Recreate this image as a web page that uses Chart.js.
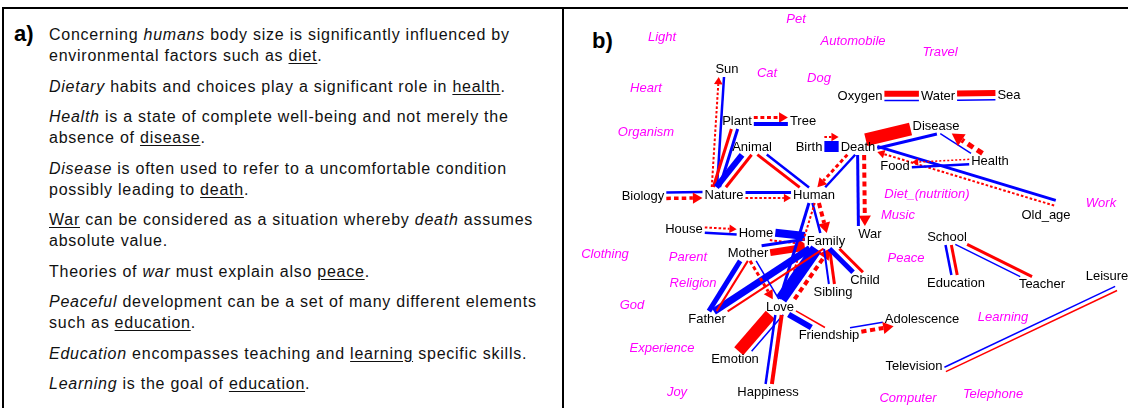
<!DOCTYPE html>
<html>
<head>
<meta charset="utf-8">
<script src="https://cdn.jsdelivr.net/npm/chart.js@4/dist/chart.umd.min.js"></script>
<style>
  html, body { margin: 0; padding: 0; background: #fff; }
  body { width: 1128px; height: 408px; position: relative; overflow: hidden; font-family: "Liberation Sans", Arial, sans-serif; }
  #topline { position: absolute; left: 2px; top: 7px; width: 1126px; height: 2px; background: #000; }
  #leftline { position: absolute; left: 2px; top: 7px; width: 2px; height: 401px; background: #000; }
  #divider { position: absolute; left: 562px; top: 7px; width: 2px; height: 401px; background: #000; }
  .tag { position: absolute; font-weight: bold; font-size: 22px; line-height: 22px; color: #000; }
  #text { position: absolute; left: 49px; top: 24px; font-size: 16px; letter-spacing: 0.75px; line-height: 21px; color: #111; white-space: nowrap; }
  #text p { margin: 0 0 9.5px 0; }
  #text u { text-underline-offset: 2px; }
  #graph { position: absolute; left: 565px; top: 9px; width: 563px; height: 399px; }
</style>
</head>
<body>
<div id="topline"></div>
<div id="leftline"></div>
<div id="divider"></div>
<div class="tag" style="left:14px; top:23px;">a)</div>
<div id="text">
  <p>Concerning <i>humans</i> body size is significantly influenced by<br>environmental factors such as <u>diet</u>.</p>
  <p><i>Dietary</i> habits and choices play a significant role in <u>health</u>.</p>
  <p><i>Health</i> is a state of complete well-being and not merely the<br>absence of <u>disease</u>.</p>
  <p><i>Disease</i> is often used to refer to a uncomfortable condition<br>possibly leading to <u>death</u>.</p>
  <p><u>War</u> can be considered as a situation whereby <i>death</i> assumes<br>absolute value.</p>
  <p>Theories of <i>war</i> must explain also <u>peace</u>.</p>
  <p><i>Peaceful</i> development can be a set of many different elements<br>such as <u>education</u>.</p>
  <p><i>Education</i> encompasses teaching and <u>learning</u> specific skills.</p>
  <p><i>Learning</i> is the goal of <u>education</u>.</p>
</div>
<div class="tag" style="left:592px; top:30px;">b)</div>
<div id="graph"><canvas id="graphCanvas"></canvas></div>
<script>
// connected concepts (label centre, same units as the picture)
const nodeNames = ['Sun', 'Plant', 'Tree', 'Animal', 'Birth', 'Death', 'Oxygen', 'Water', 'Sea',
  'Disease', 'Food', 'Health', 'Biology', 'Nature', 'Human', 'Old_age', 'War', 'School', 'House',
  'Home', 'Family', 'Mother', 'Child', 'Sibling', 'Education', 'Teacher', 'Leisure', 'Father',
  'Love', 'Friendship', 'Adolescence', 'Emotion', 'Television', 'Happiness'];
const nodeX = [727, 737, 803, 752, 809, 858, 860, 938, 1009,
  936, 895, 990, 643, 724, 814, 1046, 870, 947, 684,
  756, 826, 748, 865, 833, 956, 1042, 1107, 707,
  780, 829, 922, 735, 914, 768];
const nodeY = [69, 121, 121, 147, 147, 147, 96, 96, 95,
  126, 166, 161, 196, 195, 195, 215, 234, 237, 229,
  233, 241, 253, 280, 292, 283, 284, 276, 319,
  307, 335, 319, 359, 366, 392];

// concepts with no link
const freeNames = ['Pet', 'Light', 'Automobile', 'Travel', 'Cat', 'Dog', 'Heart', 'Organism',
  'Diet_(nutrition)', 'Work', 'Music', 'Clothing', 'Parent', 'Peace', 'Religion', 'God',
  'Learning', 'Experience', 'Joy', 'Computer', 'Telephone'];
const freeX = [796, 662, 853, 940, 767, 819, 646, 646, 927, 1101, 898, 605, 688, 906, 693, 632,
  1003, 662, 677, 908, 993];
const freeY = [19, 37, 41, 52, 73, 78, 88, 132, 194, 203, 215, 254, 257, 258, 283, 305,
  317, 348, 392, 398, 394];

// links: from, to, type (b = blue, r = red, d = red directed), weight
const links = [
  ['Sun', 'Nature', 'b', 2.5], ['Nature', 'Sun', 'd', 2],
  ['Plant', 'Nature', 'b', 3], ['Plant', 'Nature', 'r', 3],
  ['Animal', 'Nature', 'r', 3], ['Animal', 'Nature', 'b', 6],
  ['Animal', 'Human', 'b', 2.5], ['Animal', 'Human', 'r', 3],
  ['Plant', 'Tree', 'd', 3], ['Plant', 'Tree', 'b', 4],
  ['Biology', 'Nature', 'b', 2.5], ['Biology', 'Nature', 'd', 3.5],
  ['Nature', 'Human', 'b', 3], ['Nature', 'Human', 'd', 2],
  ['Birth', 'Death', 'd', 2], ['Birth', 'Death', 'b', 11],
  ['Death', 'Human', 'b', 2.5], ['Death', 'Human', 'd', 3],
  ['Death', 'Disease', 'r', 13], ['Death', 'Disease', 'b', 3],
  ['Death', 'War', 'd', 4], ['Death', 'War', 'b', 3],
  ['Death', 'Old_age', 'b', 3], ['Old_age', 'Death', 'd', 2],
  ['Oxygen', 'Water', 'r', 6], ['Oxygen', 'Water', 'b', 1.5],
  ['Water', 'Sea', 'r', 6], ['Water', 'Sea', 'b', 1.5],
  ['Health', 'Food', 'b', 2.5], ['Health', 'Food', 'd', 1.5],
  ['Health', 'Disease', 'b', 1.5], ['Health', 'Disease', 'd', 5],
  ['House', 'Home', 'd', 2], ['House', 'Home', 'b', 2.5],
  ['Home', 'Family', 'b', 8], ['Home', 'Family', 'd', 2],
  ['Mother', 'Family', 'b', 3], ['Mother', 'Family', 'r', 7],
  ['Human', 'Family', 'd', 4], ['Human', 'Family', 'b', 2.5],
  ['Human', 'Love', 'd', 2], ['Human', 'Love', 'b', 3],
  ['Love', 'Family', 'b', 12], ['Love', 'Family', 'd', 4],
  ['Family', 'Father', 'r', 2], ['Family', 'Father', 'b', 7],
  ['Family', 'Sibling', 'r', 3], ['Family', 'Sibling', 'b', 2],
  ['Family', 'Child', 'r', 3], ['Family', 'Child', 'b', 5],
  ['Mother', 'Father', 'r', 2], ['Mother', 'Father', 'b', 5],
  ['Mother', 'Love', 'b', 1.5], ['Mother', 'Love', 'd', 3],
  ['Love', 'Emotion', 'b', 1.5], ['Love', 'Emotion', 'r', 12],
  ['Love', 'Happiness', 'r', 4], ['Love', 'Happiness', 'b', 2.5],
  ['Love', 'Friendship', 'r', 1.5], ['Love', 'Friendship', 'b', 6],
  ['Friendship', 'Adolescence', 'b', 1.5], ['Friendship', 'Adolescence', 'd', 4],
  ['School', 'Education', 'r', 3], ['School', 'Education', 'b', 2.5],
  ['School', 'Teacher', 'r', 3], ['School', 'Teacher', 'b', 1.5],
  ['Television', 'Leisure', 'b', 1.5], ['Television', 'Leisure', 'r', 1.5]
];

const BLUE = '#0000ff';
const RED = '#ff0000';
const MAGENTA = '#ff00ff';
const LABEL_FONT = '13px "Liberation Sans", Arial, sans-serif';
const FREE_FONT = 'italic 13px "Liberation Sans", Arial, sans-serif';
const GAP = 3;   // space between parallel links
const PAD = 1;   // space between link end and label box
// where a link attaches, relative to the label centre
const anchorShift = {
  Sun: [-5, 0], Nature: [-10, 0], Birth: [0, -3], Death: [3, -3], War: [-8, 0],
  Old_age: [10, -12], Television: [30, 4], Leisure: [10, 12]
};

// distance along (ux,uy) from (px,py) until the label box is left
function exitDist(box, px, py, ux, uy) {
  let tx = Infinity, ty = Infinity;
  if (ux > 1e-6) tx = (box.x + box.hw - px) / ux;
  else if (ux < -1e-6) tx = (box.x - box.hw - px) / ux;
  if (uy > 1e-6) ty = (box.y + box.hh - py) / uy;
  else if (uy < -1e-6) ty = (box.y - box.hh - py) / uy;
  return Math.max(0, Math.min(tx, ty));
}

function drawLink(ctx, p, q, type, w) {
  ctx.lineCap = 'butt';
  ctx.lineWidth = w;
  if (type !== 'd') {
    ctx.setLineDash([]);
    ctx.strokeStyle = type === 'b' ? BLUE : RED;
    ctx.beginPath();
    ctx.moveTo(p.x, p.y);
    ctx.lineTo(q.x, q.y);
    ctx.stroke();
    return;
  }
  const dx = q.x - p.x, dy = q.y - p.y;
  const len = Math.hypot(dx, dy);
  const ux = dx / len, uy = dy / len;
  const al = 4 + 1.6 * w, aw = 2.5 + 0.9 * w;
  const bx = q.x - ux * al, by = q.y - uy * al;
  ctx.strokeStyle = RED;
  ctx.fillStyle = RED;
  ctx.setLineDash([Math.max(2, 1.3 * w), Math.max(2, 0.9 * w)]);
  ctx.beginPath();
  ctx.moveTo(p.x, p.y);
  ctx.lineTo(bx, by);
  ctx.stroke();
  ctx.setLineDash([]);
  ctx.beginPath();
  ctx.moveTo(q.x, q.y);
  ctx.lineTo(bx - uy * aw, by + ux * aw);
  ctx.lineTo(bx + uy * aw, by - ux * aw);
  ctx.closePath();
  ctx.fill();
}

const graphPlugin = {
  id: 'graph',
  afterDatasetsDraw(chart) {
    const { ctx, scales: { x, y } } = chart;
    ctx.save();
    ctx.font = LABEL_FONT;
    const box = {};
    nodeNames.forEach((n, i) => {
      const s = anchorShift[n] || [0, 0];
      box[n] = {
        x: x.getPixelForValue(nodeX[i]),
        y: y.getPixelForValue(nodeY[i]),
        ax: x.getPixelForValue(nodeX[i] + s[0]),
        ay: y.getPixelForValue(nodeY[i] + s[1]),
        hw: ctx.measureText(n).width / 2 + 1,
        hh: 7
      };
    });

    // links between the same two concepts run side by side
    const groups = new Map();
    links.forEach(l => {
      const key = [l[0], l[1]].sort().join('|');
      if (!groups.has(key)) groups.set(key, []);
      groups.get(key).push(l);
    });

    groups.forEach(list => {
      const A = box[list[0][0]], B = box[list[0][1]];
      const L = Math.hypot(B.ax - A.ax, B.ay - A.ay);
      const ux = (B.ax - A.ax) / L, uy = (B.ay - A.ay) / L;
      const nx = -uy, ny = ux;
      const widths = list.map(l => l[3]);
      const total = widths.reduce((s, w) => s + w, 0) + GAP * (list.length - 1);
      let off = -total / 2;
      list.forEach((l, i) => {
        const o = off + widths[i] / 2;
        off += widths[i] + GAP;
        const sx = A.ax + nx * o, sy = A.ay + ny * o;
        const ex = B.ax + nx * o, ey = B.ay + ny * o;
        const t0 = exitDist(A, sx, sy, ux, uy) + PAD;
        const t1 = exitDist(B, ex, ey, -ux, -uy) + PAD;
        let p = { x: sx + ux * t0, y: sy + uy * t0 };
        let q = { x: ex - ux * t1, y: ey - uy * t1 };
        if (l[0] !== list[0][0]) [p, q] = [q, p];
        drawLink(ctx, p, q, l[2], widths[i]);
      });
    });

    ctx.textAlign = 'center';
    ctx.textBaseline = 'middle';
    ctx.fillStyle = '#000';
    nodeNames.forEach(n => ctx.fillText(n, box[n].x, box[n].y + 0.5));
    ctx.font = FREE_FONT;
    ctx.fillStyle = MAGENTA;
    freeNames.forEach((n, i) => ctx.fillText(n, x.getPixelForValue(freeX[i]), y.getPixelForValue(freeY[i]) + 0.5));
    ctx.restore();
  }
};

new Chart(document.getElementById('graphCanvas').getContext('2d'), {
  type: 'scatter',
  data: {
    datasets: [{
      data: nodeNames.map((n, i) => ({ x: nodeX[i], y: nodeY[i] })),
      pointRadius: 0
    }, {
      data: freeNames.map((n, i) => ({ x: freeX[i], y: freeY[i] })),
      pointRadius: 0
    }]
  },
  options: {
    responsive: true,
    maintainAspectRatio: false,
    animation: false,
    devicePixelRatio: 1,
    layout: { padding: 0 },
    events: [],
    scales: {
      x: { type: 'linear', min: 565, max: 1128, display: false },
      y: { type: 'linear', min: 9, max: 408, reverse: true, display: false }
    },
    plugins: {
      legend: { display: false },
      tooltip: { enabled: false }
    }
  },
  plugins: [graphPlugin]
});
</script>
</body>
</html>
